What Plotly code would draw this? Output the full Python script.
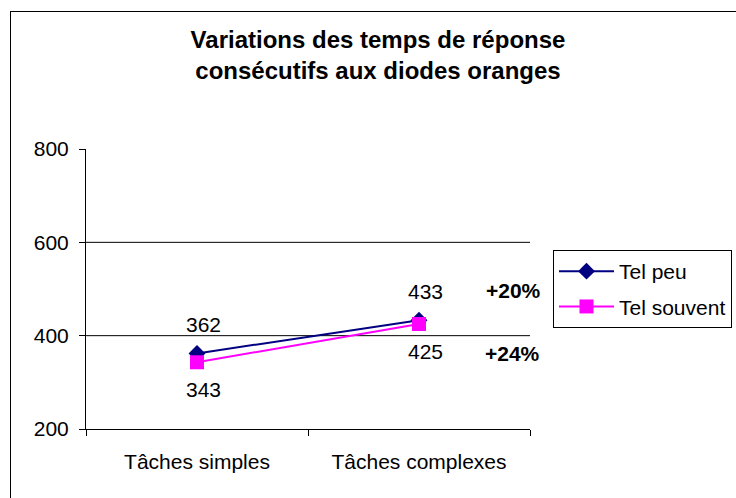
import plotly.graph_objects as go

categories = ["Tâches simples", "Tâches complexes"]
tel_peu = [362, 433]
tel_souvent = [343, 425]
variations = ["+20%", "+24%"]
y_ticks = [200, 400, 600, 800]
grid_vals = [400, 600]

FONT = "Liberation Sans, Arial, sans-serif"

fig = go.Figure()
fig.add_trace(go.Scatter(
    x=categories, y=tel_peu, name="Tel peu", mode="lines+markers",
    line=dict(color="#000080", width=2),
    marker=dict(symbol="diamond", size=13, color="#000080"),
    legendgroup="a",
))
fig.add_trace(go.Scatter(
    x=categories, y=tel_souvent, name="Tel souvent", mode="lines+markers",
    line=dict(color="#FF00FF", width=2),
    marker=dict(symbol="square", size=14, color="#FF00FF"),
    legendgroup="b",
))

# data labels
for i, c in enumerate(categories):
    fig.add_annotation(x=c, y=tel_peu[i], text=str(tel_peu[i]), showarrow=False,
                       xshift=6, yshift=29, font=dict(size=21, color="black", family=FONT))
    fig.add_annotation(x=c, y=tel_souvent[i], text=str(tel_souvent[i]), showarrow=False,
                       xshift=6, yshift=-27, font=dict(size=21, color="black", family=FONT))

# variation labels
fig.add_annotation(x=(513 - 86) / 444, y=(429 - 290) / 280, xref="paper", yref="paper",
                   xanchor="center", yanchor="middle",
                   text="<b>" + variations[0] + "</b>", showarrow=False,
                   font=dict(size=21, color="black", family=FONT))
fig.add_annotation(x=(512 - 86) / 444, y=(429 - 353) / 280, xref="paper", yref="paper",
                   xanchor="center", yanchor="middle",
                   text="<b>" + variations[1] + "</b>", showarrow=False,
                   font=dict(size=21, color="black", family=FONT))

# gridlines (only at 400 and 600)
for g in grid_vals:
    fig.add_shape(type="line", xref="paper", yref="y", x0=0, x1=1, y0=g, y1=g,
                  line=dict(color="black", width=1), layer="below")

# outer chart border
fig.add_shape(type="rect", xref="paper", yref="paper",
              x0=(10.5 - 86) / 444, x1=(745 - 86) / 444,
              y0=(429 - 505) / 280, y1=(429 - 11.5) / 280,
              line=dict(color="black", width=1), fillcolor="rgba(0,0,0,0)",
              layer="below")
# same border as an empty framed annotation box (top-left anchored)
fig.add_annotation(x=(10 - 86) / 444, y=(429 - 11) / 280, xref="paper", yref="paper",
                   xanchor="left", yanchor="top", text=" ", showarrow=False,
                   width=740, height=500, borderpad=0, borderwidth=1,
                   bordercolor="black", bgcolor="rgba(0,0,0,0)")

fig.update_layout(
    width=736, height=498,
    margin=dict(l=86, r=206, t=149, b=69),
    paper_bgcolor="white", plot_bgcolor="white",
    font=dict(family=FONT, size=21, color="black"),
    title=dict(
        text="<b>Variations des temps de réponse<br>consécutifs aux diodes oranges</b>",
        x=378 / 736, xanchor="center", xref="container",
        y=1 - 48 / 498, yanchor="top", yref="container",
        font=dict(size=24, family=FONT, color="black"),
    ),
    showlegend=True,
    legend=dict(
        x=553 / 736, y=1 - 250 / 498, xref="container", yref="container",
        xanchor="left", yanchor="top",
        bordercolor="black", borderwidth=1, bgcolor="white",
        font=dict(size=21, family=FONT, color="black"),
        tracegroupgap=5, itemwidth=55,
    ),
    xaxis=dict(
        type="category", range=[-0.5, 1.5], tickson="boundaries",
        ticks="outside", ticklen=6, tickcolor="black",
        showline=True, linecolor="black", linewidth=1,
        showgrid=False, zeroline=False, ticklabelstandoff=14,
        tickfont=dict(size=21, family=FONT),
    ),
    yaxis=dict(
        range=[200, 800], tickvals=y_ticks, ticks="outside", ticklen=6,
        tickcolor="black", showline=True, linecolor="black", linewidth=1,
        showgrid=False, zeroline=False, ticklabelstandoff=6,
        tickfont=dict(size=21, family=FONT),
    ),
)

fig.write_html("out.html", config={"displayModeBar": False},
               post_script="document.body.style.margin='0'; window.scrollTo(0,0);")
